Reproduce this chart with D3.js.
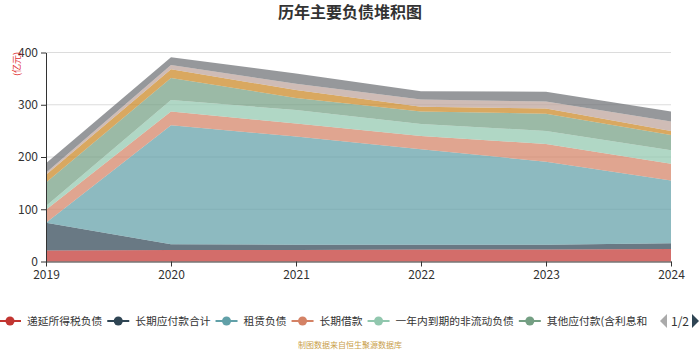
<!DOCTYPE html>
<html><head><meta charset="utf-8">
<script src="https://cdn.jsdelivr.net/npm/d3@7/dist/d3.min.js"></script>
<style>
body{margin:0;background:#fff}
svg{display:block}
text{font-family:"Noto Sans CJK SC","Microsoft YaHei",sans-serif}
</style>
</head><body>
<svg id="chart" width="700" height="350"></svg>
<script>
// ---- data ----
const years = ["2019", "2020", "2021", "2022", "2023", "2024"];
const seriesNames = ["递延所得税负债", "长期应付款合计", "租赁负债", "长期借款", "一年内到期的非流动负债", "其他应付款(含利息和股利)", "应付债券", "递延收益-非流动负债", "其他非流动负债"];
const deferredTax   = [21, 22, 22, 23, 23, 24];
const longPayable   = [53, 11, 10, 9, 9, 11];
const leaseLiab     = [0, 228, 207, 183, 159, 120];
const longLoan      = [25, 26, 25, 25, 34, 32];
const currentNonCur = [7, 22, 26, 23, 25, 26];
const otherPayable  = [45, 42, 23, 24, 33, 29];
const bonds         = [15, 17, 15, 9, 10, 8];
const deferredInc   = [4, 8, 12, 14, 13, 18];
const otherNonCur   = [18, 15, 20, 16, 19, 19];
const seriesValues = [deferredTax, longPayable, leaseLiab, longLoan, currentNonCur, otherPayable, bonds, deferredInc, otherNonCur];
const yTicks = [0, 100, 200, 300, 400];
const colors = ["#c23531", "#2f4554", "#61a0a8", "#d48265", "#91c7ae", "#749f83", "#ca8622", "#bda29a", "#6e7074"];
const legendVisible = 6;

// ---- chart ----
const svg = d3.select("#chart");
const x = d3.scalePoint().domain(years).range([46, 671]);
const y = d3.scaleLinear().domain([0, 400]).range([261.5, 52.5]);

const table = years.map((yr, i) => {
  const row = {year: yr};
  seriesNames.forEach((n, k) => row[n] = seriesValues[k][i]);
  return row;
});
const stacked = d3.stack().keys(seriesNames)(table);

// title
svg.append("text").attr("x", 350).attr("y", 18).attr("text-anchor", "middle")
  .attr("font-size", 16).attr("font-weight", "bold").attr("fill", "#333").text("历年主要负债堆积图");

// grid
svg.append("g").selectAll("line").data(yTicks.filter(d => d > 0)).join("line")
  .attr("x1", 46).attr("x2", 671).attr("y1", d => y(d)).attr("y2", d => y(d))
  .attr("stroke", "#dcdcdc").attr("stroke-width", 1);

// areas
const area = d3.area().x(d => x(d.data.year)).y0(d => y(d[0])).y1(d => y(d[1]));
svg.append("g").selectAll("path").data(stacked).join("path")
  .attr("d", area).attr("fill", (d, i) => colors[i]).attr("fill-opacity", 0.72);

// axes
const yAxis = svg.append("g").attr("transform", "translate(46,0)")
  .call(d3.axisLeft(y).tickValues(yTicks).tickSizeInner(5).tickSizeOuter(0).tickPadding(3));
yAxis.select(".domain").attr("stroke", "#333");
yAxis.selectAll(".tick line").attr("stroke", "#333");
yAxis.selectAll("text").attr("font-size", 12).attr("fill", "#333");

const xAxis = svg.append("g").attr("transform", "translate(0,261.5)")
  .call(d3.axisBottom(x).tickSizeInner(5).tickSizeOuter(0).tickPadding(4));
xAxis.select(".domain").attr("stroke", "#333");
xAxis.selectAll(".tick line").attr("stroke", "#333");
xAxis.selectAll("text").attr("font-size", 12).attr("fill", "#333");

// unit label
svg.append("text").attr("transform", "translate(20,64) rotate(-90)").attr("text-anchor", "middle")
  .attr("font-size", 9).attr("fill", "#e03030").text("(亿元)");

// legend
const lg = svg.append("g");
let cx = -1;
const ly = 321;
seriesNames.slice(0, legendVisible).forEach((n, i) => {
  const g = lg.append("g");
  g.append("line").attr("x1", cx).attr("x2", cx + 22).attr("y1", ly).attr("y2", ly)
    .attr("stroke", colors[i]).attr("stroke-width", 2);
  g.append("circle").attr("cx", cx + 11).attr("cy", ly).attr("r", 4.5).attr("fill", colors[i]);
  let label = n;
  if (i === 5) label = "其他应付款(含利息和";
  const t = g.append("text").attr("x", cx + 28).attr("y", ly + 4).attr("font-size", 10.75)
    .attr("fill", "#333").text(label);
  cx += 28 + t.node().getComputedTextLength() + 5;
});
// pager
lg.append("path").attr("d", d3.line()([[667, 314], [667, 328], [660, 321]])).attr("fill", "#aaa");
lg.append("text").attr("x", 680).attr("y", 325.5).attr("text-anchor", "middle").attr("font-size", 12)
  .attr("fill", "#333").text("1/2");
lg.append("path").attr("d", d3.line()([[692, 314], [692, 328], [699, 321]])).attr("fill", "#2f4554");

// footer
svg.append("text").attr("x", 350).attr("y", 348).attr("text-anchor", "middle")
  .attr("font-size", 8).attr("fill", "#c9a04a").text("制图数据来自恒生聚源数据库");
</script>
</body></html>
